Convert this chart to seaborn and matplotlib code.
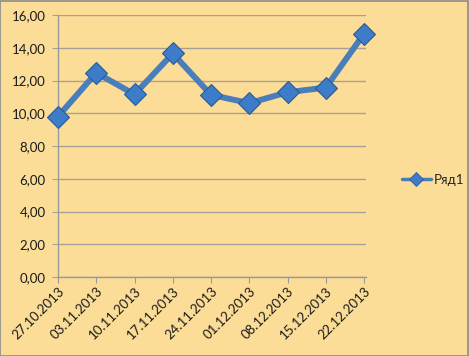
import matplotlib
matplotlib.use("Agg")
import matplotlib.pyplot as plt
import matplotlib.transforms as mtrans
from matplotlib.lines import Line2D
import seaborn as sns
import pandas as pd

# Werte
daten = ["27.10.2013", "03.11.2013", "10.11.2013", "17.11.2013", "24.11.2013",
         "01.12.2013", "08.12.2013", "15.12.2013", "22.12.2013"]
werte = [9.8, 12.47, 11.15, 13.65, 11.12, 10.62, 11.28, 11.57, 14.86]
y_ticks = [0, 2, 4, 6, 8, 10, 12, 14, 16]
serie = "Ряд1"

bg = "#FCDD97"
linie = "#4A7EBB"
marker_fc = "#3D7CC9"
marker_ec = "#2A5B96"

sns.set_style("white")
plt.rcParams["font.family"] = ["Lato", "DejaVu Sans"]

df = pd.DataFrame({"datum": daten, "wert": werte})

fig = plt.figure(figsize=(4.69, 3.56), dpi=100, facecolor=bg)
ax = fig.add_axes([58 / 469, 1 - 277 / 356, (366 - 58) / 469, (277 - 15) / 356])
ax.set_facecolor(bg)

sns.lineplot(data=df, x="datum", y="wert", color=linie, ax=ax,
             linewidth=4.3, marker="D", markersize=11,
             markerfacecolor=marker_fc, markeredgecolor=marker_ec,
             markeredgewidth=0.8, sort=False, clip_on=False, zorder=5)

ax.set_xlim(0, len(daten) - 1 + 0.05)
ax.set_ylim(0, 16)
ax.set_yticks(y_ticks)
ax.set_yticklabels([f"{v:.2f}".replace(".", ",") for v in y_ticks], fontsize=9.5,
                   color="#1A1A1A")
ax.set_xticks(range(len(daten)))
ax.set_xticklabels(daten, rotation=45, ha="right", va="top", rotation_mode="anchor",
                   fontsize=9.5, color="#1A1A1A")
verschiebung = mtrans.ScaledTranslation(6 / 100, -5 / 100, fig.dpi_scale_trans)
for lbl in ax.get_xticklabels():
    lbl.set_transform(lbl.get_transform() + verschiebung)
ax.set_xlabel("")
ax.set_ylabel("")

ax.grid(axis="y", color="#A6A096", linewidth=1)
ax.set_axisbelow(True)
for s in ["top", "right"]:
    ax.spines[s].set_visible(False)
for s in ["left", "bottom"]:
    ax.spines[s].set_color("#9A9A9A")
    ax.spines[s].set_linewidth(1)
ax.tick_params(axis="x", bottom=True, length=4, color="#9A9A9A", pad=2)
ax.tick_params(axis="y", left=True, length=4, color="#A6A096", pad=5)

# Legende von Hand, damit der Marker kleiner ist
handle = Line2D([], [], color=linie, linewidth=2.5, marker="D", markersize=7,
                markerfacecolor=marker_fc, markeredgecolor=marker_ec,
                markeredgewidth=0.6)
ax.legend([handle], [serie], loc="center left",
          bbox_to_anchor=(390 / 469, 1 - 180 / 356),
          bbox_transform=fig.transFigure, frameon=False, fontsize=9.5,
          handlelength=2.2, handletextpad=0.2)

# Rahmen um das Diagramm
rahmen = plt.Rectangle((0.001, 0.001), 0.997, 0.996, transform=fig.transFigure,
                       fill=False, edgecolor="#8C8C8C", linewidth=1.2)
fig.patches.append(rahmen)

fig.savefig("out.png", dpi=100, facecolor=bg)
